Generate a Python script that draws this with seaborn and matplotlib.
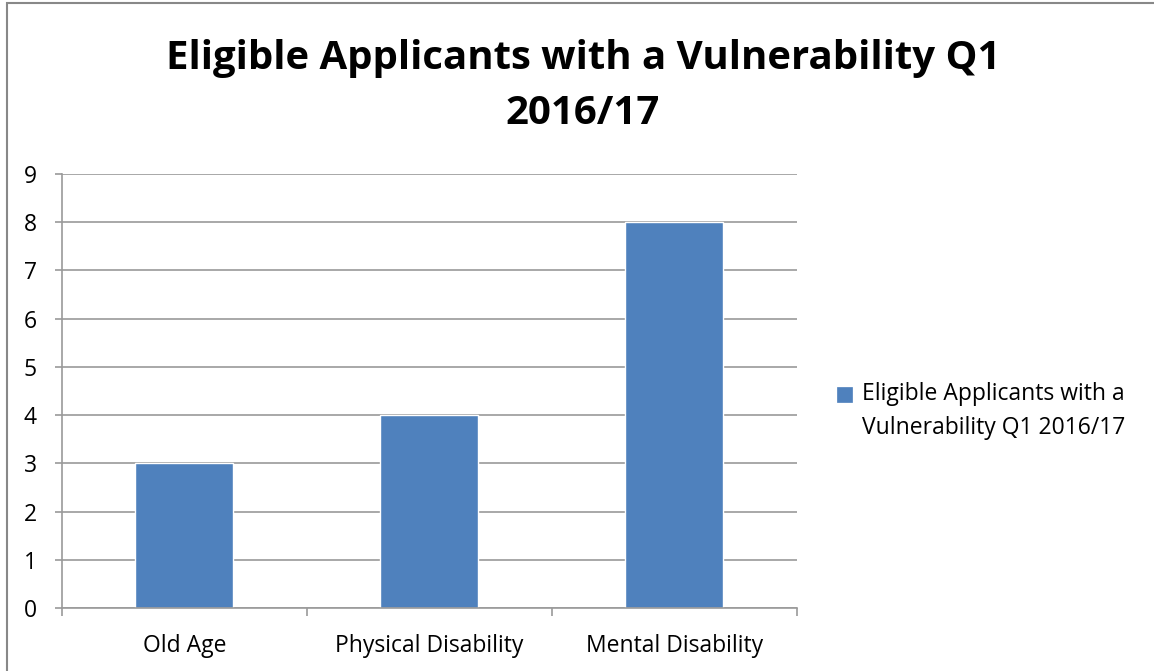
import pandas as pd
import seaborn as sns
import matplotlib
matplotlib.use('Agg')
import matplotlib.pyplot as plt
from matplotlib.patches import Rectangle

categories = ['Old Age', 'Physical Disability', 'Mental Disability']
values = [3, 4, 8]
series_name = 'Eligible Applicants with a\nVulnerability Q1 2016/17'
title = 'Eligible Applicants with a Vulnerability Q1\n2016/17'

df = pd.DataFrame({'category': categories, 'value': values})

sns.set_style('white')
plt.rcParams['font.family'] = ['Open Sans', 'DejaVu Sans']
plt.rcParams['text.color'] = 'black'
plt.rcParams['xtick.color'] = 'black'
plt.rcParams['ytick.color'] = 'black'

W, H = 1154, 671
bar_c = '#4F81BD'
fig = plt.figure(figsize=(W / 100, H / 100), dpi=100)
ax = fig.add_axes([62 / W, (H - 608) / H, (797 - 62) / W, (608 - 174) / H])

sns.barplot(data=df, x='category', y='value', color=bar_c, width=0.4,
            saturation=1, label=series_name, ax=ax)

grid_c = '#9A9A9A'
fs = 16.5
ax.set_ylim(0, 9)
ax.set_xlim(-0.5, 2.5)
ax.set_yticks(range(0, 10))
ax.yaxis.grid(True, color=grid_c, lw=1.2)
ax.set_axisbelow(True)
ax.set_xlabel('')
ax.set_ylabel('')
for s in ['top', 'right']:
    ax.spines[s].set_visible(False)
for s in ['left', 'bottom']:
    ax.spines[s].set_color(grid_c)
    ax.spines[s].set_linewidth(1.2)
ax.tick_params(axis='y', which='major', direction='out', length=5, width=1.2,
               color=grid_c, labelsize=fs, pad=13, left=True)
ax.tick_params(axis='x', which='major', length=0, labelsize=fs, pad=19)
ax.set_xticks([-0.5, 0.5, 1.5, 2.5], minor=True)
ax.tick_params(axis='x', which='minor', direction='out', length=6, width=1.2,
               color=grid_c, bottom=True)

leg = ax.legend(loc='center left', bbox_to_anchor=(837 / W, (H - 411) / H),
                bbox_transform=fig.transFigure, frameon=False, fontsize=fs,
                handlelength=0.64, handleheight=0.64, handletextpad=0.45,
                borderpad=0, borderaxespad=0, labelspacing=0)
for t in leg.get_texts():
    t.set_linespacing(1.5)
# put the swatch next to the first line, as in the original
for p in leg.get_patches():
    p.set_edgecolor(bar_c)
    p.set_linewidth(0.5)
    p.set_y(p.get_y() + 12.5)

fig.text(583 / W, 1 - 86 / H, title, ha='center', va='center',
         fontsize=28.9, fontweight='bold', linespacing=1.5)

fig.patches.append(Rectangle((7 / W, -0.05), 1.2, 1 + 0.05 - 3 / H,
                             transform=fig.transFigure, fill=False,
                             edgecolor='#888888', lw=1.5))

fig.savefig('out.png', dpi=100)
